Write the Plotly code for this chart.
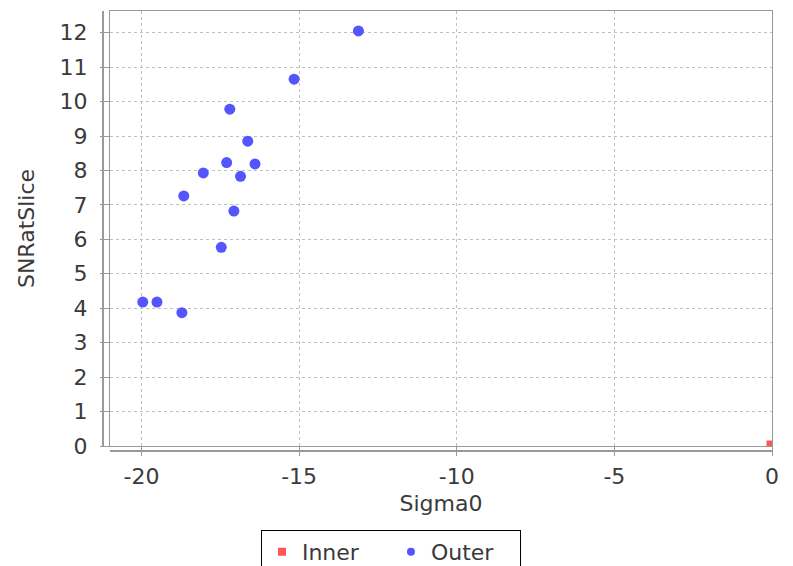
import plotly.graph_objects as go

# Data
outer_x = [-13.12, -15.16, -17.20, -16.63, -17.30, -16.40, -18.04, -16.86, -18.66, -17.07, -17.47, -19.96, -19.51, -18.72]
outer_y = [12.05, 10.65, 9.78, 8.85, 8.23, 8.19, 7.93, 7.83, 7.26, 6.82, 5.77, 4.18, 4.18, 3.87]
inner_x = [0.0]
inner_y = [0.0]

x_ticks = [-20, -15, -10, -5, 0]
x_tick_text = ["-20", "-15", "-10", "-5", "0"]
y_ticks = list(range(0, 13))

FONT = "DejaVu Sans"
TXT = "#3a3a3a"
FS = 22
RED = "#FF5555"
BLUE = "#5555FF"

fig = go.Figure()
fig.add_trace(go.Scatter(x=inner_x, y=inner_y, mode="markers", name="Inner", showlegend=False,
                         marker=dict(symbol="square", size=11, color=RED), cliponaxis=True))
fig.add_trace(go.Scatter(x=outer_x, y=outer_y, mode="markers", name="Outer", showlegend=False,
                         marker=dict(symbol="circle", size=11, color=BLUE)))
# legend entries (smaller symbols, as in the reference legend)
fig.add_trace(go.Scatter(x=[None], y=[None], mode="markers", name="Inner",
                         marker=dict(symbol="square", size=8, color=RED)))
fig.add_trace(go.Scatter(x=[None], y=[None], mode="markers", name="Outer",
                         marker=dict(symbol="circle", size=8, color=BLUE)))

axis_common = dict(
    showgrid=True, gridcolor="#c0c0c0", griddash="3px,3px", gridwidth=1,
    zeroline=False, showline=True, mirror=True, linecolor="#999999", linewidth=1,
    ticks="outside", ticklen=9, tickcolor="#999999", automargin=False,
    tickfont=dict(family=FONT, size=FS, color=TXT),
)

fig.update_xaxes(range=[-21, 0], tickvals=x_ticks, ticktext=x_tick_text,
                 title=dict(text="Sigma0", font=dict(family=FONT, size=FS, color=TXT), standoff=7),
                 ticklabelstandoff=2, **axis_common)
fig.update_yaxes(range=[0, 12.63], tickvals=y_ticks,
                 title=dict(text="SNRatSlice", font=dict(family=FONT, size=FS, color=TXT), standoff=18),
                 ticklabelstandoff=8, **axis_common)

# offset axis lines (JFreeChart style)
fig.add_shape(type="line", xref="paper", yref="paper", x0=-0.0106, x1=-0.0106, y0=0, y1=1,
              line=dict(color="#999999", width=2))
fig.add_shape(type="line", xref="paper", yref="paper", x0=0, x1=1, y0=-0.0115, y1=-0.0115,
              line=dict(color="#999999", width=2))

fig.update_layout(
    width=793, height=566,
    margin=dict(l=110, r=21, t=11, b=120, autoexpand=False),
    paper_bgcolor="white", plot_bgcolor="white",
    font=dict(family=FONT, size=FS, color=TXT),
    showlegend=True,
    legend=dict(orientation="h", x=0.228, xanchor="left", y=-0.193, yanchor="top",
                bordercolor="black", borderwidth=1, bgcolor="white",
                entrywidth=84, entrywidthmode="pixels",
                font=dict(family=FONT, size=FS, color=TXT), itemsizing="trace"),
)

fig.write_html("out.html", config={"displayModeBar": False},
               post_script="document.body.style.margin='0';document.body.style.overflow='hidden';")
